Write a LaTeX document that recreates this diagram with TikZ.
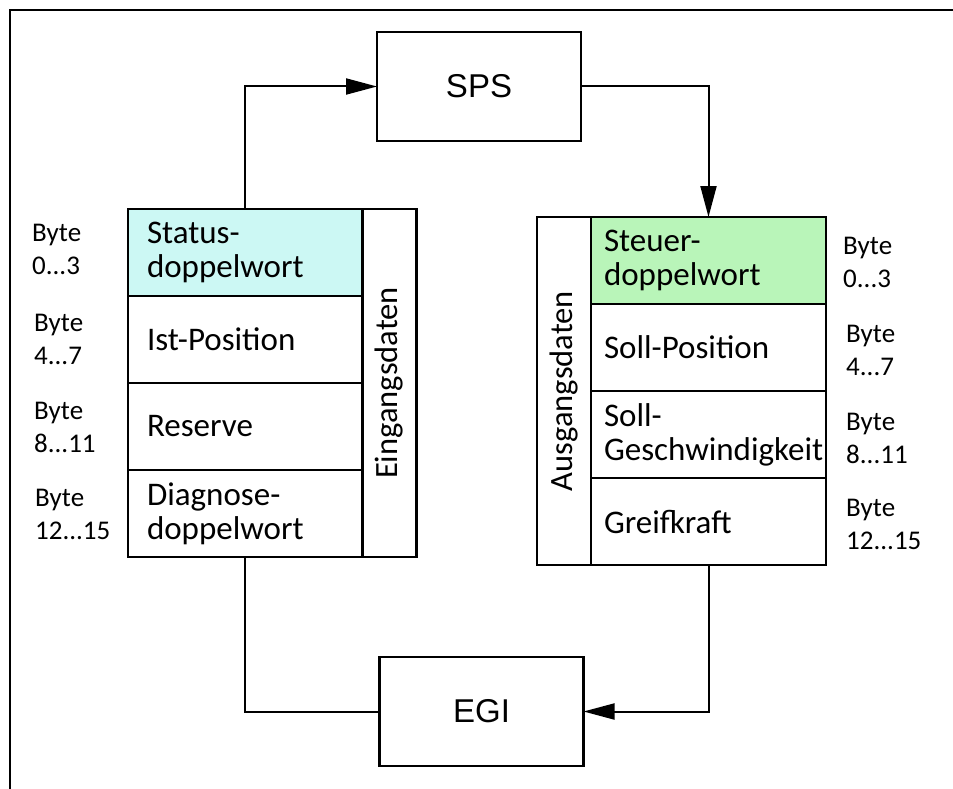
\documentclass[tikz,border=0pt]{standalone}
\usepackage{fontspec}
\setmainfont{Carlito}
\newfontfamily\arialfont{Liberation Sans}
\usetikzlibrary{arrows.meta}
\definecolor{statuscyan}{HTML}{CCF8F4}
\definecolor{steuergreen}{HTML}{B9F5B9}
\tikzset{
  cell/.style={draw, line width=2.5pt, outer sep=0pt, minimum width=234pt, minimum height=87pt,
    text width=196pt, inner xsep=19pt, align=left, anchor=north west,
    font=\fontsize{33}{34}\selectfont},
  rcell/.style={cell, minimum width=235pt, inner xsep=13pt, text width=209pt},
  column/.style={draw, line width=2.5pt, outer sep=0pt, rotate=90, minimum width=348pt,
    minimum height=54pt, inner sep=0pt, font=\fontsize{32.5}{34}\selectfont},
  unit/.style={draw, line width=2.5pt, outer sep=0pt, minimum width=204pt, minimum height=109pt,
    font=\arialfont\fontsize{33}{34}\selectfont},
  bytelabel/.style={inner sep=0pt, align=left, anchor=west, font=\fontsize{27}{33}\selectfont},
  flow/.style={line width=2pt, -{Triangle[length=31pt,width=16pt]}},
  plainflow/.style={line width=2pt},
  frame/.style={line width=1.5pt}
}
\begin{document}
\begin{tikzpicture}[x=1pt,y=-1pt]
\useasboundingbox (0,0) rectangle (953,789);
% open outer frame
\coordinate (fr) at (953,10);
\coordinate (fc) at (10,10);
\coordinate (fb) at (10,789);
\draw[frame] (fr) -- (fc) -- (fb);

% units
\node[unit] (sps) at (479,86.5) {SPS};
\node[unit] (egi) at (481.5,711.5) {EGI};

% input data block
\node[cell, fill=statuscyan] (status) at (128,209) {Status-\\doppelwort};
\node[cell] (ist) at (128,296) {Ist-Position};
\node[cell] (res) at (128,383) {Reserve};
\node[cell] (diag) at (128,470) {Diagnose-\\doppelwort};
\node[column] (ein) at (389.5,383) {Eingangsdaten};

% output data block
\node[rcell, fill=steuergreen] (steuer) at (591,217) {Steuer-\\doppelwort};
\node[rcell] (sollpos) at (591,304) {Soll-Position};
\node[rcell] (sollgesch) at (591,391) {Soll-\\Geschwindigkeit};
\node[rcell] (greif) at (591,478) {Greifkraft};
\node[column] (aus) at (564,391) {Ausgangsdaten};

% byte labels left
\node[bytelabel] (bl1) at (32,249) {Byte\\0...3};
\node[bytelabel] (bl2) at (34,339) {Byte\\4...7};
\node[bytelabel] (bl3) at (34,427) {Byte\\8...11};
\node[bytelabel] (bl4) at (35,514) {Byte\\12...15};

% byte labels right
\node[bytelabel] (br1) at (843,262) {Byte\\0...3};
\node[bytelabel] (br2) at (846,350) {Byte\\4...7};
\node[bytelabel] (br3) at (846,438) {Byte\\8...11};
\node[bytelabel] (br4) at (846,524) {Byte\\12...15};

% connectors
\draw[flow] (status.north) |- (sps.west);
\draw[flow] (sps.east) -| (steuer.north);
\draw[flow] (greif.south) |- (egi.east);
\draw[plainflow] (diag.south) |- (egi.west);
\end{tikzpicture}
\end{document}
